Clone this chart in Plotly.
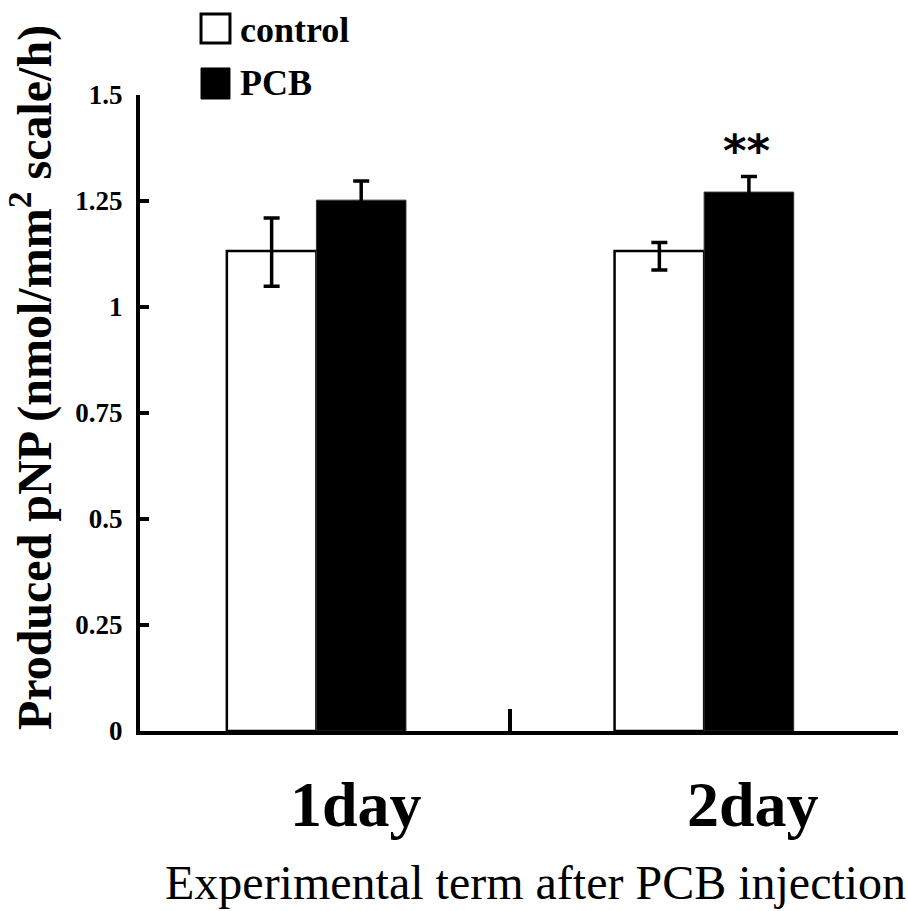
import plotly.graph_objects as go

categories = ["1day", "2day"]
control_vals = [1.132, 1.132]
pcb_vals = [1.252, 1.271]
control_err_plus = [0.078, 0.02]
control_err_minus = [0.083, 0.045]
pcb_err = [0.045, 0.037]
y_ticks = [0, 0.25, 0.5, 0.75, 1, 1.25, 1.5]
y_ticktext = ["0", "0.25", "0.5", "0.75", "1", "1.25", "1.5"]
series_names = ["control", "PCB"]
y_title = "Produced pNP (nmol/mm<sup>2</sup> scale/h)"
x_title = "Experimental term after PCB injection"
signif = "**"

SERIF = "Liberation Serif"

fig = go.Figure()
fig.add_trace(go.Bar(
    x=categories, y=control_vals, name=series_names[0],
    marker=dict(color="white", line=dict(color="black", width=2.5)),
    error_y=dict(type="data", array=control_err_plus, arrayminus=control_err_minus,
                 symmetric=False, color="black", thickness=3.5, width=8),
    showlegend=False,
))
fig.add_trace(go.Bar(
    x=categories, y=pcb_vals, name=series_names[1],
    marker=dict(color="black", line=dict(color="#333333", width=1)),
    error_y=dict(type="data", array=pcb_err, color="black", thickness=3.5, width=8),
    showlegend=False,
))

fig.update_layout(
    width=908, height=911,
    margin=dict(l=140, r=10, t=95, b=180),
    paper_bgcolor="white", plot_bgcolor="white",
    barmode="group", bargap=0.538, bargroupgap=0,
    showlegend=False,
    font=dict(family=SERIF, color="black"),
)
fig.update_xaxes(
    type="category", range=[-0.455, 1.5],
    showline=True, linewidth=4, linecolor="black",
    ticks="inside", ticklen=22, tickwidth=4, tickcolor="black",
    tickson="boundaries", showticklabels=False, showgrid=False, zeroline=False,
)
fig.update_yaxes(
    range=[0, 1.5], tickvals=y_ticks, ticktext=[f"<b>{t}</b>" for t in y_ticktext],
    showline=True, linewidth=4, linecolor="black",
    ticks="inside", ticklen=9, tickwidth=4, tickcolor="black",
    tickfont=dict(family=SERIF, size=27, color="black"),
    ticklabelstandoff=8,
    showgrid=False, zeroline=False,
)

# category labels
for cx, lab in zip([0.285, 0.8087], categories):
    fig.add_annotation(x=cx, y=-0.1148, xref="paper", yref="paper", text=f"<b>{lab}</b>",
                       showarrow=False, xanchor="center", yanchor="middle",
                       font=dict(family=SERIF, size=64, color="black"))

# x title
fig.add_annotation(x=0.0303, y=-0.2385, xref="paper", yref="paper", text=x_title,
                   showarrow=False, xanchor="left", yanchor="middle",
                   font=dict(family=SERIF, size=48, color="black"))

# y title
fig.add_annotation(x=-0.143, y=0.5558, xref="paper", yref="paper", text=f"<b>{y_title}</b>",
                   showarrow=False, textangle=-90, xanchor="center", yanchor="middle",
                   font=dict(family=SERIF, size=48, color="black"))

# significance
fig.add_annotation(x=categories[1], y=pcb_vals[1] + pcb_err[1], xref="x", yref="y",
                   text=signif, showarrow=False, xshift=42, yshift=-3,
                   xanchor="center", yanchor="bottom",
                   font=dict(family="DejaVu Sans", size=45, color="black", weight="bold"))

# legend (custom)
fig.add_shape(type="rect", xref="paper", yref="paper", x0=0.0805, x1=0.1187, y0=1.0818, y1=1.1274,
              fillcolor="white", line=dict(color="black", width=3))
fig.add_shape(type="rect", xref="paper", yref="paper", x0=0.0805, x1=0.1187, y0=0.9937, y1=1.0425,
              fillcolor="black", line=dict(color="black", width=1))
fig.add_annotation(x=0.1293, y=1.1022, xref="paper", yref="paper", text=f"<b>{series_names[0]}</b>",
                   showarrow=False, xanchor="left", yanchor="middle",
                   font=dict(family=SERIF, size=36, color="black"))
fig.add_annotation(x=0.1293, y=1.0189, xref="paper", yref="paper", text=f"<b>{series_names[1]}</b>",
                   showarrow=False, xanchor="left", yanchor="middle",
                   font=dict(family=SERIF, size=36, color="black"))

fig.write_html("out.html", config={"displayModeBar": False},
               post_script="document.body.style.margin='0';document.body.style.padding='0';")
